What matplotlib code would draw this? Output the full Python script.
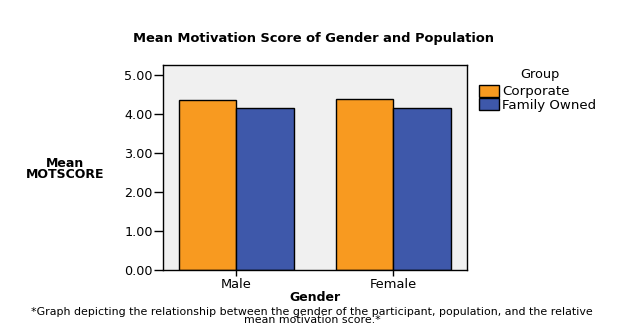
import numpy as np
import matplotlib.pyplot as plt
from matplotlib.ticker import FormatStrFormatter

genders = ["Male", "Female"]
groups = ["Corporate", "Family Owned"]
corporate = [4.36, 4.40]
family_owned = [4.15, 4.15]
group_colors = ["#F89A20", "#3E58AA"]

plt.rcParams['font.family'] = ['DejaVu Sans']

fig = plt.figure(figsize=(6.24, 3.35), dpi=100)
ax = fig.add_axes([0.2617, 0.194, 0.486, 0.612])
ax.set_facecolor("#F0F0F0")

x = np.arange(len(genders))
w = 0.367
ax.bar(x - w / 2, corporate, w, color=group_colors[0], edgecolor="black",
       linewidth=1, label=groups[0])
ax.bar(x + w / 2, family_owned, w, color=group_colors[1], edgecolor="black",
       linewidth=1, label=groups[1])

ax.set_xlim(-0.465, 1.465)
ax.set_ylim(0, 5.26)
ax.set_yticks(np.arange(0, 5.01, 1.0))
ax.yaxis.set_major_formatter(FormatStrFormatter("%.2f"))
ax.set_xticks(x)
ax.set_xticklabels(genders)
ax.tick_params(axis="y", direction="out", length=6.5, width=1,
               labelsize=9.2, pad=1)
ax.tick_params(axis="x", direction="out", length=4, width=1,
               labelsize=9.4, pad=2)
for s in ax.spines.values():
    s.set_linewidth(1)

ax.set_xlabel("Gender", fontsize=9, fontweight="bold", labelpad=0)
fig.text(0.104, 0.495, "Mean\nMOTSCORE", ha="center", va="center",
         fontsize=9, fontweight="bold", linespacing=0.85)
fig.text(0.502, 0.885, "Mean Motivation Score of Gender and Population",
         ha="center", va="center", fontsize=9.4, fontweight="bold")
fig.text(0.5, 0.057,
         "*Graph depicting the relationship between the gender of the participant, "
         "population, and the relative\nmean motivation score.*",
         ha="center", va="center", fontsize=7.9, linespacing=0.85)

# legend title drawn separately so the entries can sit close together
fig.text(0.865, 0.779, "Group", ha="center", va="center", fontsize=9.3)
ax.legend(loc="upper left", bbox_to_anchor=(0.768, 0.746),
          bbox_transform=fig.transFigure, frameon=False,
          fontsize=9.6, handlelength=1.5, handleheight=0.95,
          handletextpad=0.2, labelspacing=0.0,
          borderaxespad=0, borderpad=0)

fig.savefig("out.png", dpi=100)
